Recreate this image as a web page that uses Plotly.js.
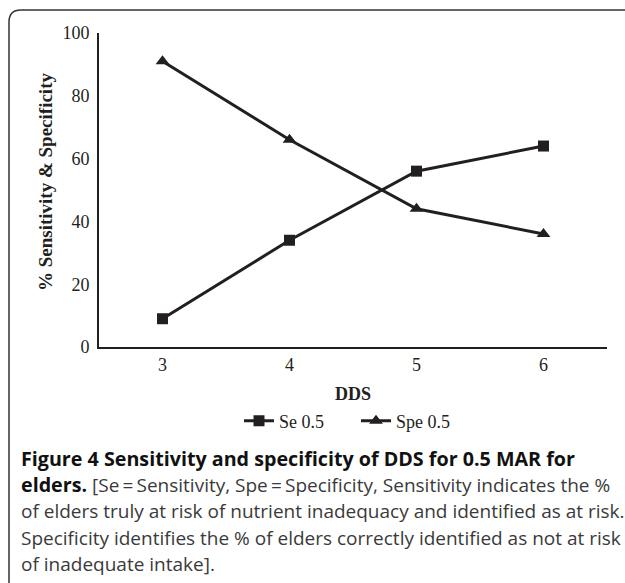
<!DOCTYPE html>
<html>
<head>
<meta charset="utf-8">
<script src="https://cdn.plot.ly/plotly-3.0.1.min.js"></script>
<style>html,body{margin:0;padding:0;background:#fff;}#chart{width:625px;height:583px;}</style>
</head>
<body>
<div id="chart"></div>
<script>
const categories = ['3', '4', '5', '6'];
const seValues = [9, 34, 56, 64];
const speValues = [91, 66, 44, 36];
const seName = 'Se 0.5';
const speName = 'Spe 0.5';
const yTicks = [0, 20, 40, 60, 80, 100];
const xTitle = 'DDS';
const yTitle = '% Sensitivity & Specificity';
const captionLines = [
  ['Figure 4 Sensitivity and specificity of DDS for 0.5 MAR for', ''],
  ['elders.', ' [Se\u2009=\u2009Sensitivity, Spe\u2009=\u2009Specificity, Sensitivity indicates the %'],
  ['', 'of elders truly at risk of nutrient inadequacy and identified as at risk.'],
  ['', 'Specificity identifies the % of elders correctly identified as not at risk'],
  ['', 'of inadequate intake].']
];

const W = 625, H = 583;
const px = x => x / W;
const py = y => 1 - y / H;
const ink = '#231f20';
const serif = 'Liberation Serif, Times New Roman, serif';

const traces = [
  {x: categories, y: seValues, name: seName, type: 'scatter', mode: 'lines+markers',
   line: {color: ink, width: 3}, marker: {symbol: 'square', size: 11, color: ink}},
  {x: categories, y: speValues, name: speName, type: 'scatter', mode: 'lines+markers',
   line: {color: ink, width: 3}, marker: {symbol: 'triangle-up', size: 12, color: ink}}
];

const annotations = [{
  xref: 'paper', yref: 'paper', x: px(45), y: py(182), xanchor: 'center', yanchor: 'middle',
  textangle: -90, showarrow: false,
  text: '<b>' + yTitle + '</b>',
  font: {family: serif, size: 19, color: ink}
}];
captionLines.forEach((ln, i) => {
  let t = '';
  if (ln[0]) t += '<b><span style="font-size:19.7px;color:#111">' + ln[0] + '</span></b>';
  if (ln[1]) t += '<span style="color:#3a3a3a">' + ln[1] + '</span>';
  annotations.push({
    xref: 'paper', yref: 'paper', x: px(19), y: py(458 + i * 26.5), xanchor: 'left', yanchor: 'middle',
    align: 'left', showarrow: false, text: t,
    font: {family: 'Open Sans, Noto Sans, sans-serif', size: 19, color: '#1a1a1a'}
  });
});

const layout = {
  width: W, height: H,
  margin: {l: 0, r: 0, t: 0, b: 0},
  paper_bgcolor: '#fff', plot_bgcolor: '#fff',
  showlegend: true,
  font: {family: serif, color: ink, size: 17},
  xaxis: {
    type: 'category', domain: [px(99), px(607)], range: [-0.5, 3.5],
    showline: true, linecolor: ink, linewidth: 2, showgrid: false, zeroline: false,
    ticks: '', tickfont: {family: serif, size: 18, color: ink},
    title: {text: '<b>' + xTitle + '</b>', font: {family: serif, size: 18, color: ink}, standoff: 14},
    automargin: false, fixedrange: true
  },
  yaxis: {
    domain: [py(347), py(33)], range: [0, 100], tickvals: yTicks,
    showline: true, linecolor: ink, linewidth: 2, showgrid: false, zeroline: false,
    ticks: '', ticklabelstandoff: 4, tickfont: {family: serif, size: 18, color: ink},
    automargin: false, fixedrange: true
  },
  legend: {
    orientation: 'h', x: px(356), xanchor: 'center', y: py(421), yanchor: 'middle',
    font: {family: serif, size: 18, color: ink}, itemwidth: 30, entrywidth: 72,
    bgcolor: 'rgba(0,0,0,0)'
  },
  shapes: [{
    type: 'path', xref: 'paper', yref: 'paper',
    path: `M ${px(9)} ${py(590)} L ${px(9)} ${py(22)} Q ${px(9)} ${py(10)} ${px(21)} ${py(10)} L ${px(630)} ${py(10)}`,
    line: {color: '#333', width: 1.5}
  }],
  annotations: annotations
};

Plotly.newPlot('chart', traces, layout, {displayModeBar: false, staticPlot: true});
</script>
</body>
</html>
